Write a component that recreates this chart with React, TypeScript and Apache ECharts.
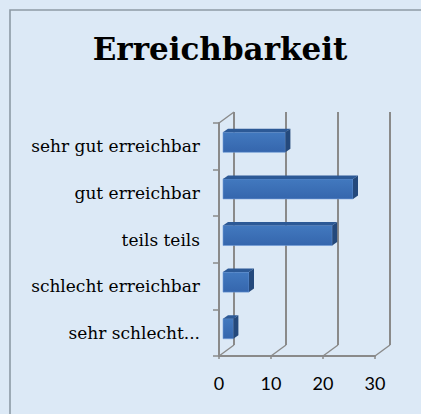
import React, { useEffect, useRef } from "react";
import * as echarts from "echarts";

const titleText = "Erreichbarkeit";
const categories = [
  "sehr gut erreichbar",
  "gut erreichbar",
  "teils teils",
  "schlecht erreichbar",
  "sehr schlecht...",
];
const values = [12, 25, 21, 5, 2];
const xTicks = [0, 10, 20, 30];

const DX = 15;
const DY = -11;
const GRID_COLOR = "#8a8a8a";

export default function App() {
  const ref = useRef<HTMLDivElement>(null);
  useEffect(() => {
    if (!ref.current) return;
    const chart = echarts.init(ref.current, null, { renderer: "svg" });
    const option: any = {
      animation: false,
      backgroundColor: "#dce9f6",
      graphic: [
        {
          type: "rect",
          shape: { x: 10, y: 10, width: 430, height: 430 },
          style: { fill: "none", stroke: "#8d9aa5", lineWidth: 1.6 },
          silent: true,
          z: 0,
        },
        {
          type: "text",
          x: 220,
          y: 49,
          style: {
            text: titleText,
            font: "bold 31px 'DejaVu Serif'",
            fill: "#000",
            textAlign: "center",
            textVerticalAlign: "middle",
          },
        },
      ],
      grid: { left: 219, top: 123, width: 156, height: 233, containLabel: false },
      xAxis: {
        type: "value",
        min: 0,
        max: 30,
        interval: 10,
        axisLine: { show: true, lineStyle: { color: GRID_COLOR, width: 2 } },
        axisTick: { show: true, length: 3, lineStyle: { color: GRID_COLOR, width: 1.5 } },
        splitLine: { show: false },
        axisLabel: {
          margin: 18,
          color: "#000",
          fontFamily: "Lato",
          fontSize: 18,
        },
      },
      yAxis: {
        type: "category",
        data: categories,
        inverse: true,
        axisLine: { show: true, lineStyle: { color: GRID_COLOR, width: 2 } },
        axisTick: { show: true, length: 6, lineStyle: { color: GRID_COLOR, width: 1.5 } },
        axisLabel: {
          margin: 19,
          color: "#000",
          fontFamily: "DejaVu Serif",
          fontSize: 17,
        },
      },
      series: [
        {
          type: "custom",
          name: "wall",
          silent: true,
          z: 1,
          data: xTicks.map((t) => [t, 0]),
          encode: { x: 0, y: 1 },
          renderItem: (params: any, api: any) => {
            const cs = params.coordSys;
            const px = api.coord([api.value(0), 0])[0];
            const yb = cs.y + cs.height;
            const yt = cs.y;
            const children: any[] = [
              {
                type: "line",
                shape: { x1: px + DX, y1: yt + DY, x2: px + DX, y2: yb + DY },
                style: { stroke: GRID_COLOR, lineWidth: 2 },
              },
              {
                type: "line",
                shape: { x1: px, y1: yb, x2: px + DX, y2: yb + DY },
                style: { stroke: GRID_COLOR, lineWidth: 1.4 },
              },
            ];
            if (params.dataIndex === 0) {
              children.push({
                type: "line",
                shape: { x1: px, y1: yt, x2: px + DX, y2: yt + DY },
                style: { stroke: GRID_COLOR, lineWidth: 1.4 },
              });
            }
            return { type: "group", children };
          },
        },
        {
          type: "custom",
          name: "Erreichbarkeit",
          z: 3,
          data: values.map((v, i) => [v, i]),
          encode: { x: 0, y: 1 },
          renderItem: (params: any, api: any) => {
            const v = api.value(0);
            const c = api.value(1);
            const p0 = api.coord([0, c]);
            const p1 = api.coord([v, c]);
            const band = api.size([0, 1])[1];
            const h = band * 0.43;
            const fx = 4;
            const fy = -4;
            const dx = 5;
            const dy = -3.5;
            const x0 = p0[0] + fx;
            const x1 = p1[0] + fx;
            const y0 = p0[1] + fy - h / 2;
            const y1 = y0 + h;
            return {
              type: "group",
              children: [
                {
                  type: "rect",
                  shape: { x: x0, y: y0, width: x1 - x0, height: h },
                  style: {
                    fill: new echarts.graphic.LinearGradient(0, 0, 0, 1, [
                      { offset: 0, color: "#4279bf" },
                      { offset: 1, color: "#3566ad" },
                    ]),
                    stroke: "#6f9bd6",
                    lineWidth: 0.6,
                  },
                },
                {
                  type: "polygon",
                  shape: {
                    points: [
                      [x0, y0],
                      [x1, y0],
                      [x1 + dx, y0 + dy],
                      [x0 + dx, y0 + dy],
                    ],
                  },
                  style: { fill: "#2c5996" },
                },
                {
                  type: "polygon",
                  shape: {
                    points: [
                      [x1, y0],
                      [x1 + dx, y0 + dy],
                      [x1 + dx, y1 + dy],
                      [x1, y1],
                    ],
                  },
                  style: { fill: "#24497c" },
                },
              ],
            };
          },
        },
      ],
    };
    chart.setOption(option);
    return () => chart.dispose();
  }, []);
  return (
    <div
      ref={ref}
      style={{ position: "fixed", left: 0, top: 0, width: 421, height: 414 }}
    />
  );
}
